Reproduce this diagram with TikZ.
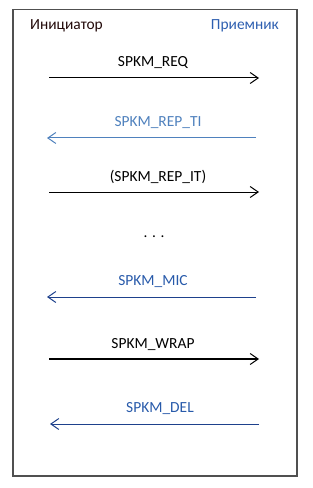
\documentclass[tikz,border=0pt]{standalone}
\usepackage{fontspec}
\setmainfont{Carlito}
\usetikzlibrary{arrows.meta}
\definecolor{initc}{RGB}{35,10,10}
\definecolor{recvc}{RGB}{46,95,176}
\definecolor{lightb}{RGB}{79,129,189}
\definecolor{darkb}{RGB}{40,90,170}
\definecolor{navy}{RGB}{30,65,140}
\definecolor{framec}{RGB}{80,80,80}
\tikzset{
  lbl/.style={font=\fontsize{15.5}{18}\selectfont, inner sep=0pt, anchor=base},
  tip/.style={-{Straight Barb[length=8bp,width=11bp,line width=1bp]}},
  msg/.style={tip, line width=1bp},
}
\begin{document}
\begin{tikzpicture}[x=1bp,y=-1bp]
\useasboundingbox (0,0) rectangle (312,488);
\draw[framec, line width=1.5bp] (13,9.5) rectangle (297,476);
\node[lbl, anchor=base west, text=initc] (ini) at (30,30) {Инициатор};
\node[lbl, anchor=base east, text=recvc] (rec) at (279,30) {Приемник};

\coordinate (a1s) at (49,78);  \coordinate (a1e) at (259,78);
\coordinate (a2s) at (256,138); \coordinate (a2e) at (47,138);
\coordinate (a3s) at (49,192); \coordinate (a3e) at (259,192);
\coordinate (a5s) at (256,297); \coordinate (a5e) at (47,297);
\coordinate (a6s) at (49,359); \coordinate (a6e) at (259,359);
\coordinate (a7s) at (259,424); \coordinate (a7e) at (50,424);

\node[lbl] (l1) at (153,67) {SPKM\_REQ};
\draw[msg] (a1s) -- (a1e);

\node[lbl, text=lightb] (l2) at (158,127) {SPKM\_REP\_TI};
\draw[msg, lightb] (a2s) -- (a2e);

\node[lbl] (l3) at (158,182) {(SPKM\_REP\_IT)};
\draw[msg] (a3s) -- (a3e);

\node[lbl] (dots) at (154,237) {. . .};

\node[lbl, text=darkb] (l5) at (153,285) {SPKM\_MIC};
\draw[msg, navy] (a5s) -- (a5e);

\node[lbl] (l6) at (153,348) {SPKM\_WRAP};
\draw[msg, line width=1.6bp] (a6s) -- (a6e);

\node[lbl, text=darkb] (l7) at (160,412) {SPKM\_DEL};
\draw[msg, navy] (a7s) -- (a7e);
\end{tikzpicture}
\end{document}
